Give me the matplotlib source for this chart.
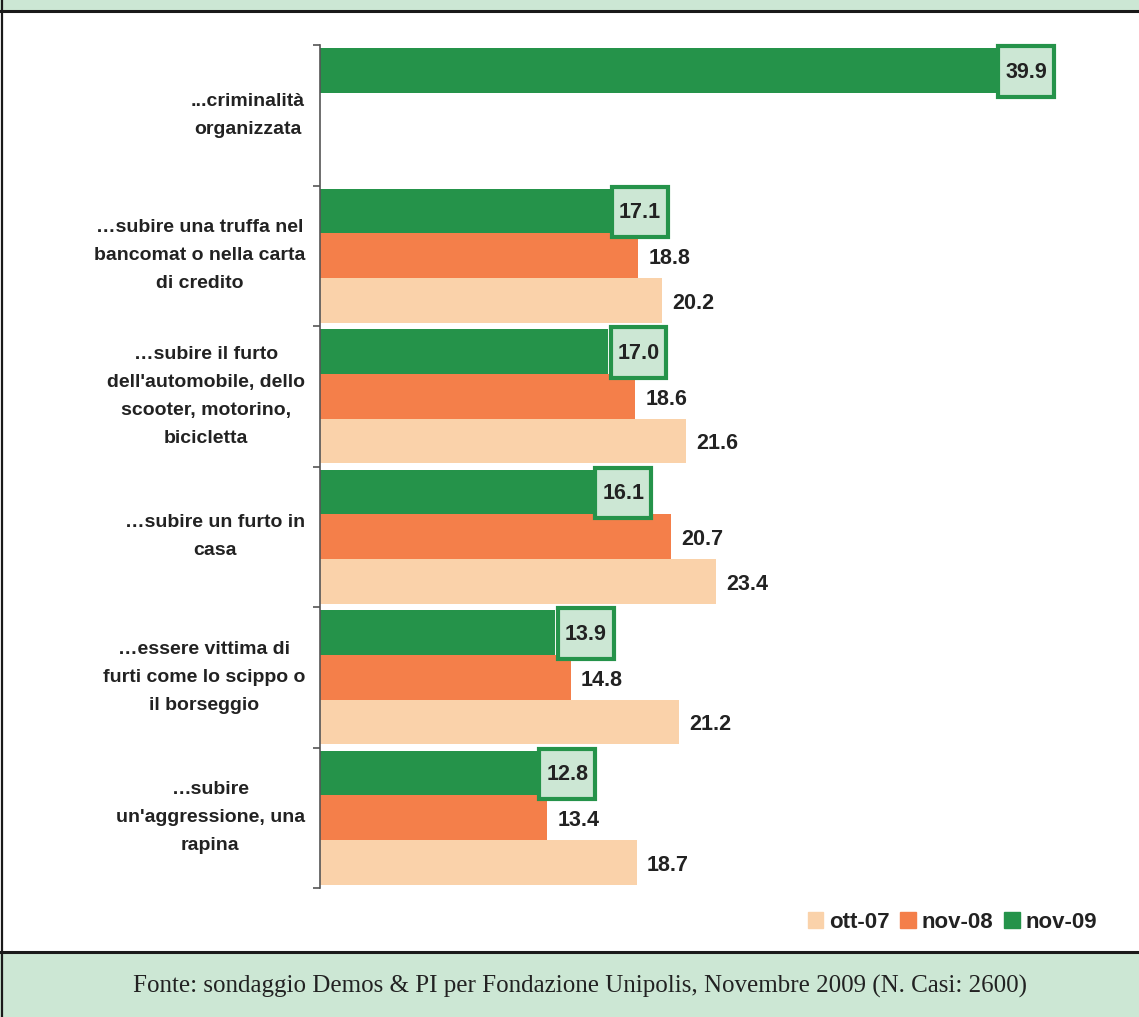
import numpy as np
import matplotlib.pyplot as plt
from matplotlib.patches import Rectangle
from matplotlib.lines import Line2D

plt.rcParams['font.family'] = ['Liberation Sans', 'DejaVu Sans']

categories = ["...criminalità\norganizzata",
              "…subire una truffa nel\nbancomat o nella carta\ndi credito",
              "…subire il furto\ndell'automobile, dello\nscooter, motorino,\nbicicletta",
              "…subire un furto in\ncasa",
              "…essere vittima di\nfurti come lo scippo o\nil borseggio",
              "…subire\nun'aggressione, una\nrapina"]
nov09 = [39.9, 17.1, 17.0, 16.1, 13.9, 12.8]
nov08 = [None, 18.8, 18.6, 20.7, 14.8, 13.4]
ott07 = [None, 20.2, 21.6, 23.4, 21.2, 18.7]
series_names = ["ott-07", "nov-08", "nov-09"]

GREEN = "#25934a"
ORANGE = "#f47f4a"
PEACH = "#fad2aa"
LIGHT = "#cce7d4"
TXT = "#222222"

W, H = 1139, 1017
fig = plt.figure(figsize=(W / 100, H / 100), dpi=100)

# frame: bands and borders
fig.patches.append(Rectangle((0, 1 - 10 / H), 1, 10 / H, transform=fig.transFigure,
                             facecolor=LIGHT, edgecolor="none", zorder=0))
fig.patches.append(Rectangle((0, 0), 1, 64 / H, transform=fig.transFigure,
                             facecolor=LIGHT, edgecolor="none", zorder=0))
fig.lines.append(Line2D([0, 1], [1 - 11 / H] * 2, transform=fig.transFigure,
                        color="#1a1a1a", lw=2.2))
fig.lines.append(Line2D([0, 1], [1 - 952 / H] * 2, transform=fig.transFigure,
                        color="#1a1a1a", lw=2.2))
fig.lines.append(Line2D([2 / W] * 2, [0, 1], transform=fig.transFigure,
                        color="#1a1a1a", lw=1.6))

x0, x1 = 320, 1100
ytop, ybot = 45, 888
ax = fig.add_axes([x0 / W, 1 - ybot / H, (x1 - x0) / W, (ybot - ytop) / H])
scale = 16.94
ax.set_xlim(0, (x1 - x0) / scale)
ax.set_ylim(len(categories) - 0.5, -0.5)

bh = 0.317
y = np.arange(len(categories))
for i in range(len(categories)):
    ax.barh(y[i] - bh, nov09[i], height=bh, color=GREEN, zorder=2)
    if nov08[i] is not None:
        ax.barh(y[i], nov08[i], height=bh, color=ORANGE, zorder=2)
        ax.text(nov08[i] + 0.6, y[i] + 0.02, f"{nov08[i]:.1f}", va="center", ha="left",
                fontsize=15.5, fontweight="bold", color=TXT)
    if ott07[i] is not None:
        ax.barh(y[i] + bh, ott07[i], height=bh, color=PEACH, zorder=2)
        ax.text(ott07[i] + 0.6, y[i] + bh + 0.02, f"{ott07[i]:.1f}", va="center", ha="left",
                fontsize=15.5, fontweight="bold", color=TXT)
    # boxed label for nov-09
    bx = nov09[i] + 0.15
    bw = 3.3
    ax.add_patch(Rectangle((bx, y[i] - bh - 0.175), bw, 0.36, facecolor=LIGHT,
                           edgecolor=GREEN, lw=3, zorder=3, clip_on=False))
    ax.text(bx + bw / 2, y[i] - bh + 0.01, f"{nov09[i]:.1f}", va="center", ha="center",
            fontsize=15.5, fontweight="bold", color=TXT, zorder=4)
    ax.text(305 / W, 1 - (ytop + (i + 0.5) * (ybot - ytop) / len(categories)) / H,
            categories[i], transform=fig.transFigure,
            ha="right", va="center", multialignment="center", fontsize=14,
            fontweight="bold", color=TXT, linespacing=1.85)

for s in ["top", "right", "bottom"]:
    ax.spines[s].set_visible(False)
ax.spines["left"].set_color("#555555")
ax.spines["left"].set_linewidth(1.2)
ax.set_xticks([])
ax.set_yticks(np.arange(-0.5, len(categories), 1.0))
ax.set_yticklabels([])
ax.tick_params(axis="y", direction="out", length=5, width=1.2, color="#555555")

handles = [Rectangle((0, 0), 1, 1, color=c) for c in [PEACH, ORANGE, GREEN]]
fig.legend(handles, series_names, loc="center right",
           bbox_to_anchor=(1097 / W, 1 - 922 / H), ncol=3, frameon=False,
           borderaxespad=0, borderpad=0,
           handlelength=0.7, handleheight=0.7, handletextpad=0.25, columnspacing=0.5,
           prop={"weight": "bold", "size": 16})
for t in fig.legends[0].get_texts():
    t.set_color(TXT)

fig.text(580 / W, 1 - 986 / H,
         "Fonte: sondaggio Demos & PI per Fondazione Unipolis, Novembre 2009 (N. Casi: 2600)",
         ha="center", va="center", fontsize=18, family="Liberation Serif", color=TXT)

fig.savefig("out.png", dpi=100)
